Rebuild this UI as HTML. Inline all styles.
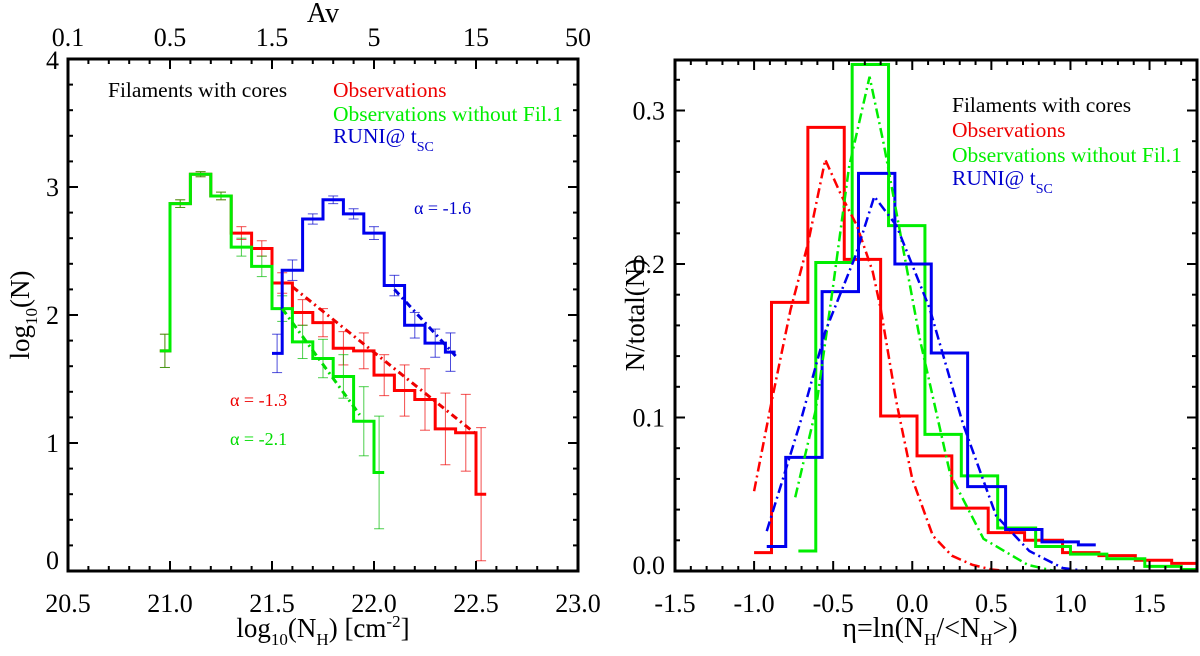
<!DOCTYPE html>
<html><head><meta charset="utf-8"><style>
html,body{margin:0;padding:0;background:#fff;}
svg{display:block;font-family:"Liberation Serif",serif;}
</style></head><body>
<svg id="fig" width="1200" height="656" viewBox="0 0 1200 656" xmlns="http://www.w3.org/2000/svg"></svg>
<script>
// ---------- Left panel data ----------
const leftRedEdges = [20.95,21.0,21.1,21.2,21.3,21.4,21.5,21.6,21.7,21.8,21.9,22.0,22.1,22.2,22.3,22.4,22.5,22.55];
const leftRedVals  = [1.72,2.87,3.10,2.93,2.64,2.52,2.25,2.02,1.94,1.74,1.72,1.53,1.41,1.34,1.11,1.08,0.60];
const leftRedErr   = [0.13,0.03,0.02,0.03,0.05,0.06,0.08,0.10,0.11,0.13,0.14,0.16,0.20,0.24,0.28,0.30,0.52];
const leftGreenEdges = [20.95,21.0,21.1,21.2,21.3,21.4,21.5,21.6,21.7,21.8,21.9,22.0,22.05];
const leftGreenVals  = [1.72,2.87,3.10,2.93,2.53,2.38,2.05,1.79,1.66,1.52,1.17,0.77];
const leftGreenErr   = [0.13,0.03,0.02,0.03,0.07,0.08,0.10,0.13,0.15,0.17,0.27,0.44];
const leftBlueEdges = [21.5,21.55,21.65,21.75,21.85,21.95,22.05,22.15,22.25,22.35,22.4];
const leftBlueVals  = [1.70,2.35,2.75,2.90,2.79,2.64,2.23,1.92,1.78,1.71];
const leftBlueErr   = [0.15,0.08,0.04,0.03,0.04,0.05,0.08,0.10,0.11,0.15];
const fitRedX = [21.6,22.5], fitRedY = [2.22,1.07];
const fitGreenX = [21.55,21.93], fitGreenY = [2.05,1.22];
const fitBlueX = [22.1,22.4], fitBlueY = [2.2,1.68];
const leftXTicks = ["20.5","21.0","21.5","22.0","22.5","23.0"];
const leftYTicks = ["0","1","2","3","4"];
const avTicks = ["0.1","0.5","1.5","5","15","50"];

// ---------- Right panel data ----------
const rRedEdges = [-1.0,-0.89,-0.66,-0.43,-0.2,0.03,0.25,0.48,0.71,0.95,1.18,1.41,1.64,1.8];
const rRedVals  = [0.012,0.175,0.289,0.203,0.101,0.075,0.041,0.025,0.020,0.012,0.010,0.007,0.005];
const rGreenEdges = [-0.72,-0.61,-0.38,-0.15,0.08,0.31,0.54,0.78,1.0,1.23,1.47,1.7,1.8];
const rGreenVals  = [0.013,0.201,0.330,0.225,0.089,0.062,0.028,0.016,0.011,0.008,0.003,0.001];
const rBlueEdges = [-0.92,-0.8,-0.57,-0.34,-0.11,0.12,0.35,0.59,0.82,1.05,1.16];
const rBlueVals  = [0.016,0.074,0.182,0.259,0.200,0.142,0.055,0.027,0.019,0.017];
const fRedX = [-1.0,-0.89,-0.77,-0.66,-0.55,-0.45,-0.35,-0.25,-0.2,-0.1,0.0,0.13,0.25,0.38,0.5,0.6,1.8];
const fRedY = [0.052,0.11,0.17,0.213,0.268,0.245,0.225,0.195,0.171,0.11,0.06,0.023,0.01,0.004,0.001,0.0,0.0];
const fGreenX = [-0.74,-0.61,-0.5,-0.4,-0.27,-0.18,0.05,0.24,0.45,0.73,0.9,1.8];
const fGreenY = [0.048,0.105,0.186,0.263,0.322,0.278,0.150,0.063,0.021,0.004,0.0,0.0];
const fBlueX = [-0.92,-0.71,-0.55,-0.36,-0.24,-0.1,0.11,0.32,0.53,0.74,0.95,1.1];
const fBlueY = [0.026,0.096,0.156,0.205,0.244,0.225,0.171,0.096,0.036,0.013,0.002,0.0];
const rightXTicks = ["-1.5","-1.0","-0.5","0.0","0.5","1.0","1.5"];
const rightYTicks = ["0.0","0.1","0.2","0.3"];

const NS="http://www.w3.org/2000/svg";
const svg=document.getElementById('fig');
function mk(tag,attrs,parent){const e=document.createElementNS(NS,tag);for(const k in attrs)e.setAttribute(k,attrs[k]);(parent||svg).appendChild(e);return e;}

const L={x0:68,x1:578,y0:571,y1:59,xmin:20.5,xmax:23.0,ymin:0,ymax:4};
const R={x0:675,x1:1197,y0:571,y1:60,xmin:-1.5,xmax:1.8,ymin:0,ymax:0.3329};
function sx(P,v){return P.x0+(v-P.xmin)/(P.xmax-P.xmin)*(P.x1-P.x0);}
function sy(P,v){return P.y0-(v-P.ymin)/(P.ymax-P.ymin)*(P.y0-P.y1);}

function stepPath(P,edges,vals){
  let d='M'+sx(P,edges[0])+','+sy(P,vals[0]);
  for(let i=0;i<vals.length;i++){
    d+=' L'+sx(P,edges[i+1])+','+sy(P,vals[i]);
    if(i+1<vals.length) d+=' L'+sx(P,edges[i+1])+','+sy(P,vals[i+1]);
  }
  return d;
}
function linePath(P,xs,ys){return xs.map((x,i)=>(i?'L':'M')+sx(P,x)+','+sy(P,ys[i])).join(' ');}

const TK=26;

// ---------- LEFT ----------
const gL=mk('g',{});



function errbars(P,edges,vals,errs,color,name){
  const g=mk('g',{stroke:color,'stroke-width':1,'stroke-opacity':0.7},gL);
  
  
  for(let i=0;i<vals.length;i++){
    const cx=sx(P,(edges[i]+edges[i+1])/2), ya=sy(P,vals[i]+errs[i]), yb=sy(P,vals[i]-errs[i]);
    mk('line',{x1:cx,x2:cx,y1:ya,y2:yb},g);
    mk('line',{x1:cx-5,x2:cx+5,y1:ya,y2:ya},g);
    mk('line',{x1:cx-5,x2:cx+5,y1:yb,y2:yb},g);
  }
}
errbars(L,leftRedEdges,leftRedVals,leftRedErr,'#e00','red-error-bars');
errbars(L,leftGreenEdges,leftGreenVals,leftGreenErr,'#0b0','green-error-bars');
errbars(L,leftBlueEdges,leftBlueVals,leftBlueErr,'#00c','blue-error-bars');

let p=mk('path',{d:stepPath(L,leftRedEdges,leftRedVals),fill:'none',stroke:'#f00','stroke-width':3},gL);


p=mk('path',{d:stepPath(L,leftGreenEdges,leftGreenVals),fill:'none',stroke:'#0e0','stroke-width':3},gL);


p=mk('path',{d:stepPath(L,leftBlueEdges,leftBlueVals),fill:'none',stroke:'#00e','stroke-width':3},gL);



p=mk('path',{d:linePath(L,fitRedX,fitRedY),fill:'none',stroke:'#e00','stroke-width':3,'stroke-dasharray':'7,4,2,4'},gL);


p=mk('path',{d:linePath(L,fitGreenX,fitGreenY),fill:'none',stroke:'#0d0','stroke-width':3,'stroke-dasharray':'7,4,2,4'},gL);


p=mk('path',{d:linePath(L,fitBlueX,fitBlueY),fill:'none',stroke:'#00d','stroke-width':3,'stroke-dasharray':'7,4,2,4'},gL);



function axesBox(P,name,g){
  const r=mk('rect',{x:P.x0,y:P.y1,width:P.x1-P.x0,height:P.y0-P.y1,fill:'none',stroke:'#000','stroke-width':3},g);
  
  
}
axesBox(L,'left-plot-frame',gL);
const tk=mk('g',{stroke:'#000','stroke-width':2},gL);


for(let i=0;i<=25;i++){
  const v=20.5+i*0.1, x=sx(L,v), len=(i%5===0)?10:5;
  mk('line',{x1:x,x2:x,y1:L.y0,y2:L.y0-len},tk);
  mk('line',{x1:x,x2:x,y1:L.y1,y2:L.y1+len},tk);
}
for(let i=0;i<=20;i++){
  const v=i*0.2, y=sy(L,v), len=(i%5===0)?10:5;
  mk('line',{x1:L.x0,x2:L.x0+len,y1:y,y2:y},tk);
  mk('line',{x1:L.x1,x2:L.x1-len,y1:y,y2:y},tk);
}
leftXTicks.forEach(t=>{
  const e=mk('text',{x:sx(L,parseFloat(t)),y:612,'font-size':TK,'text-anchor':'middle'},gL);e.textContent=t;
  
  
});
leftYTicks.forEach(t=>{
  let y=sy(L,parseFloat(t))+9; if(t==='4') y=L.y1+10; if(t==='0') y=sy(L,0)-2;
  const e=mk('text',{x:59,y:y,'font-size':TK,'text-anchor':'end'},gL);
  e.textContent=t;
  
  
});
avTicks.forEach((t,i)=>{
  const e=mk('text',{x:sx(L,20.5+i*0.5),y:46,'font-size':TK,'text-anchor':'middle'},gL);e.textContent=t;
  
  
});
let t=mk('text',{x:323,y:22,'font-size':28,'text-anchor':'middle'},gL);t.textContent='Av';


t=mk('text',{x:323,y:637,'font-size':27,'text-anchor':'middle'},gL);
t.innerHTML='log<tspan font-size="17" dy="8">10</tspan><tspan dy="-8">(N</tspan><tspan font-size="17" dy="8">H</tspan><tspan dy="-8">) [cm</tspan><tspan font-size="17" dy="-10">-2</tspan><tspan dy="10">]</tspan>';


t=mk('text',{x:0,y:0,'font-size':27,'text-anchor':'middle',transform:'translate(29,315) rotate(-90)'},gL);
t.innerHTML='log<tspan font-size="17" dy="8">10</tspan><tspan dy="-8">(N)</tspan>';



function lbl(x,y,txt,col,size,name,g){
  const e=mk('text',{x:x,y:y,'font-size':size,fill:col},g);e.innerHTML=txt;
  
  
  return e;
}
lbl(108,97,'Filaments with cores','#000',21.5,'legend-title',gL);
lbl(333,97,'Observations','#e00',21.5,'legend-observations',gL);
lbl(333,121,'Observations without Fil.1','#0e0',21.5,'legend-observations-without-fil1',gL);
lbl(333,143,'RUNI@ t<tspan font-size="14" dy="8">SC</tspan>','#00c',21.5,'legend-runi',gL);
lbl(414,214,'α = -1.6','#00c',18,'alpha-blue-label',gL);
lbl(230,406,'α = -1.3','#e00',18,'alpha-red-label',gL);
lbl(230,445,'α = -2.1','#0d0',18,'alpha-green-label',gL);

// ---------- RIGHT ----------
const gR=mk('g',{});


const clip=mk('clipPath',{id:'rc'},mk('defs',{},gR));
mk('rect',{x:R.x0,y:R.y1,width:R.x1-R.x0,height:R.y0-R.y1},clip);
const gRc=mk('g',{'clip-path':'url(#rc)'},gR);

p=mk('path',{d:stepPath(R,rRedEdges,rRedVals),fill:'none',stroke:'#f00','stroke-width':3},gRc);


p=mk('path',{d:stepPath(R,rGreenEdges,rGreenVals),fill:'none',stroke:'#0e0','stroke-width':3},gRc);


p=mk('path',{d:stepPath(R,rBlueEdges,rBlueVals),fill:'none',stroke:'#00e','stroke-width':3},gRc);


p=mk('path',{d:linePath(R,fRedX,fRedY),fill:'none',stroke:'#f00','stroke-width':2.5,'stroke-dasharray':'10,4,2,4'},gRc);


p=mk('path',{d:linePath(R,fGreenX,fGreenY),fill:'none',stroke:'#0e0','stroke-width':2.5,'stroke-dasharray':'10,4,2,4'},gRc);


p=mk('path',{d:linePath(R,fBlueX,fBlueY),fill:'none',stroke:'#00e','stroke-width':2.5,'stroke-dasharray':'10,4,2,4'},gRc);



axesBox(R,'right-plot-frame',gR);
const tkr=mk('g',{stroke:'#000','stroke-width':2},gR);


for(let i=0;i<=33;i++){
  const v=-1.5+i*0.1, x=sx(R,v), len=(i%5===0)?10:5;
  mk('line',{x1:x,x2:x,y1:R.y0,y2:R.y0-len},tkr);
  mk('line',{x1:x,x2:x,y1:R.y1,y2:R.y1+len},tkr);
}
for(let i=0;i<=16;i++){
  const v=i*0.02, y=sy(R,v), len=(i%5===0)?10:5;
  mk('line',{x1:R.x0,x2:R.x0+len,y1:y,y2:y},tkr);
  mk('line',{x1:R.x1,x2:R.x1-len,y1:y,y2:y},tkr);
}
rightXTicks.forEach(tx=>{
  const e=mk('text',{x:sx(R,parseFloat(tx)),y:612,'font-size':TK,'text-anchor':'middle'},gR);e.textContent=tx;
  
  
});
rightYTicks.forEach(ty=>{
  let y=sy(R,parseFloat(ty))+9; if(ty==='0.0') y=sy(R,0)+3;
  const e=mk('text',{x:665,y:y,'font-size':TK,'text-anchor':'end'},gR);e.textContent=ty;
  
  
});
t=mk('text',{x:930,y:637,'font-size':28,'text-anchor':'middle'},gR);
t.innerHTML='η=ln(N<tspan font-size="17" dy="8">H</tspan><tspan dy="-8">/&lt;N</tspan><tspan font-size="17" dy="8">H</tspan><tspan dy="-8">&gt;)</tspan>';


t=mk('text',{x:0,y:0,'font-size':27,'text-anchor':'middle',transform:'translate(644,315) rotate(-90)'},gR);
t.textContent='N/total(N)';


lbl(952,112,'Filaments with cores','#000',21.5,'right-legend-title',gR);
lbl(952,137,'Observations','#e00',21.5,'right-legend-observations',gR);
lbl(952,162,'Observations without Fil.1','#0e0',21.5,'right-legend-observations-without-fil1',gR);
lbl(952,185,'RUNI@ t<tspan font-size="14" dy="8">SC</tspan>','#00c',21.5,'right-legend-runi',gR);
</script>
</body></html>
